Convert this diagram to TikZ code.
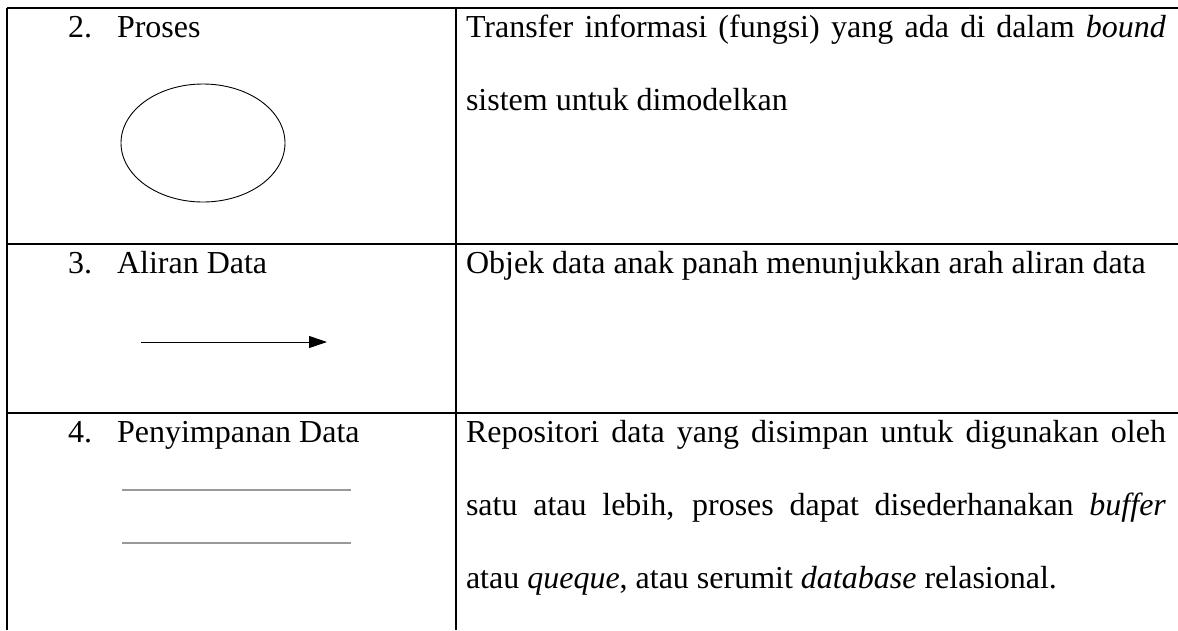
\documentclass[tikz,border=0pt]{standalone}
\usepackage{fontspec}
\setmainfont{Liberation Serif}
\usetikzlibrary{arrows.meta}
\tikzset{
  grid/.style={line width=2pt, black},
  txt/.style={anchor=base west, inner sep=0pt, outer sep=0pt, font=\fontsize{32}{38}\selectfont},
  procshape/.style={draw, line width=0.9pt},
  flowline/.style={line width=1pt, -{Triangle[length=18pt, width=12pt]}},
  storeline/.style={line width=1.4pt, draw=black!40}
}
\newcommand{\jline}[1]{\makebox[700pt][s]{#1}}
\begin{document}
\begin{tikzpicture}[x=1pt, y=-1pt]
\fill[white] (0,0) rectangle (1178,630);
\useasboundingbox (0,0) rectangle (1178,630);
% table grid
\coordinate (tl) at (7,7.5);
\coordinate (tr) at (1178,7.5);
\coordinate (ml) at (7,244);
\coordinate (mr) at (1178,244);
\coordinate (nl) at (7,412.5);
\coordinate (nr) at (1178,412.5);
\coordinate (bl) at (7,630);
\coordinate (ct) at (456,7.5);
\coordinate (cb) at (456,630);
\draw[grid] (tl) -- (tr);
\draw[grid] (ml) -- (mr);
\draw[grid] (nl) -- (nr);
\draw[grid] (tl) -- (bl);
\draw[grid] (ct) -- (cb);
% left column labels
\node[txt] (n2) at (68,37) {2.};
\node[txt] (l2) at (117,37) {Proses};
\node[txt] (n3) at (68,273) {3.};
\node[txt] (l3) at (117,273) {Aliran Data};
\node[txt] (n4) at (68,442) {4.};
\node[txt] (l4) at (117,442) {Penyimpanan Data};
% symbols
\draw[procshape] (203,143) ellipse [x radius=82, y radius=59];
\coordinate (a1) at (141,342);
\coordinate (a2) at (327,342);
\draw[flowline] (a1) -- (a2);
\coordinate (s1) at (122,490);
\coordinate (s2) at (351,490);
\coordinate (s3) at (122,543);
\coordinate (s4) at (351,543);
\draw[storeline] (s1) -- (s2);
\draw[storeline] (s3) -- (s4);
% right column descriptions
\node[txt] (d2a) at (466,37) {\jline{Transfer informasi (fungsi) yang ada di dalam \textit{bound}}};
\node[txt] (d2b) at (466,110) {sistem untuk dimodelkan};
\node[txt] (d3a) at (466,273) {Objek data anak panah menunjukkan arah aliran data};
\node[txt] (d4a) at (466,442) {\jline{Repositori data yang disimpan untuk digunakan oleh}};
\node[txt] (d4b) at (466,515) {\jline{satu atau lebih, proses dapat disederhanakan \textit{buffer}}};
\node[txt] (d4c) at (466,588) {atau \textit{queque}, atau serumit \textit{database} relasional.};
\end{tikzpicture}
\end{document}
